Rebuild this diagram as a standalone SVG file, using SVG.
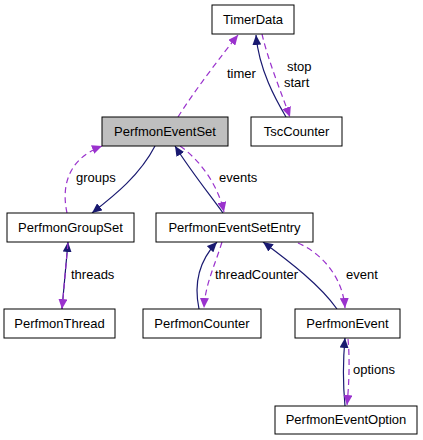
<svg xmlns="http://www.w3.org/2000/svg" width="423" height="440" viewBox="0 0 423 440">
<style>
.node rect{fill:#fff;stroke:#000;stroke-width:1}
.node text{font-family:"Liberation Sans",Arial,sans-serif;font-size:13px;text-anchor:middle;fill:#000}
.lbl{font-family:"Liberation Sans",Arial,sans-serif;font-size:13px;fill:#000}
.s{fill:none;stroke:#191970;stroke-width:1.2;marker-end:url(#ab)}
.d{fill:none;stroke:#9a32cd;stroke-width:1.2;stroke-dasharray:6,4;marker-end:url(#ap)}
</style>
<defs>
<marker id="ab" markerUnits="userSpaceOnUse" markerWidth="11" markerHeight="9" refX="10" refY="4.5" orient="auto"><path d="M0,0 L10,4.5 L0,9 z" fill="#191970"/></marker>
<marker id="ap" markerUnits="userSpaceOnUse" markerWidth="11" markerHeight="9" refX="10" refY="4.5" orient="auto"><path d="M0,0 L10,4.5 L0,9 z" fill="#9a32cd"/></marker>
</defs>
<rect width="423" height="440" fill="#fff"/>
<g id="edges">
<path class="s" d="M286,117 C276,100 259,70 256,35"/>
<path class="d" d="M262,34 C268,60 282,95 290,117"/>
<path class="d" d="M178,117 C195,90 222,55 238,35"/>
<path class="s" d="M155,146 C140,175 115,195 92,213"/>
<path class="d" d="M67,213 C62,190 65,160 102,146"/>
<path class="s" d="M223,213 C210,195 190,170 175,146"/>
<path class="d" d="M180,146 C200,160 218,185 224,212"/>
<path class="s" d="M62,309 L68,242"/>
<path class="d" d="M68,243 L62,309"/>
<path class="s" d="M199,309 C195,290 195,265 217,242"/>
<path class="d" d="M222,242 C215,265 205,285 204,308"/>
<path class="s" d="M337,309 C320,285 290,262 263,242"/>
<path class="d" d="M298,243 C325,255 343,280 345,308"/>
<path class="s" d="M345,406 C343,385 343,360 345,338"/>
<path class="d" d="M348,339 C350,360 349,385 347,405"/>
<text class="lbl" x="227" y="78">timer</text>
<text class="lbl" x="287" y="71">stop</text>
<text class="lbl" x="284" y="87">start</text>
<text class="lbl" x="76" y="182">groups</text>
<text class="lbl" x="219" y="182">events</text>
<text class="lbl" x="71" y="279">threads</text>
<text class="lbl" x="215" y="279">threadCounter</text>
<text class="lbl" x="346" y="279">event</text>
<text class="lbl" x="353" y="374">options</text>
</g>
<g id="TimerData" class="node"><rect x="212" y="5" width="82" height="29"/><text x="253" y="24">TimerData</text></g>
<g id="TscCounter" class="node"><rect x="251" y="117" width="91" height="29"/><text x="296.5" y="136">TscCounter</text></g>
<g id="PerfmonEventSet" class="node"><rect x="102" y="117" width="126" height="29" style="fill:#bfbfbf"/><text x="165" y="136">PerfmonEventSet</text></g>
<g id="PerfmonGroupSet" class="node"><rect x="7" y="213" width="127" height="29"/><text x="70.5" y="232">PerfmonGroupSet</text></g>
<g id="PerfmonEventSetEntry" class="node"><rect x="156" y="213" width="157" height="29"/><text x="234.5" y="232">PerfmonEventSetEntry</text></g>
<g id="PerfmonThread" class="node"><rect x="4" y="309" width="111" height="29"/><text x="59.5" y="328">PerfmonThread</text></g>
<g id="PerfmonCounter" class="node"><rect x="143" y="309" width="118" height="29"/><text x="202" y="328">PerfmonCounter</text></g>
<g id="PerfmonEvent" class="node"><rect x="295" y="309" width="105" height="29"/><text x="347.5" y="328">PerfmonEvent</text></g>
<g id="PerfmonEventOption" class="node"><rect x="275" y="406" width="142" height="28"/><text x="346" y="424">PerfmonEventOption</text></g>
</svg>
